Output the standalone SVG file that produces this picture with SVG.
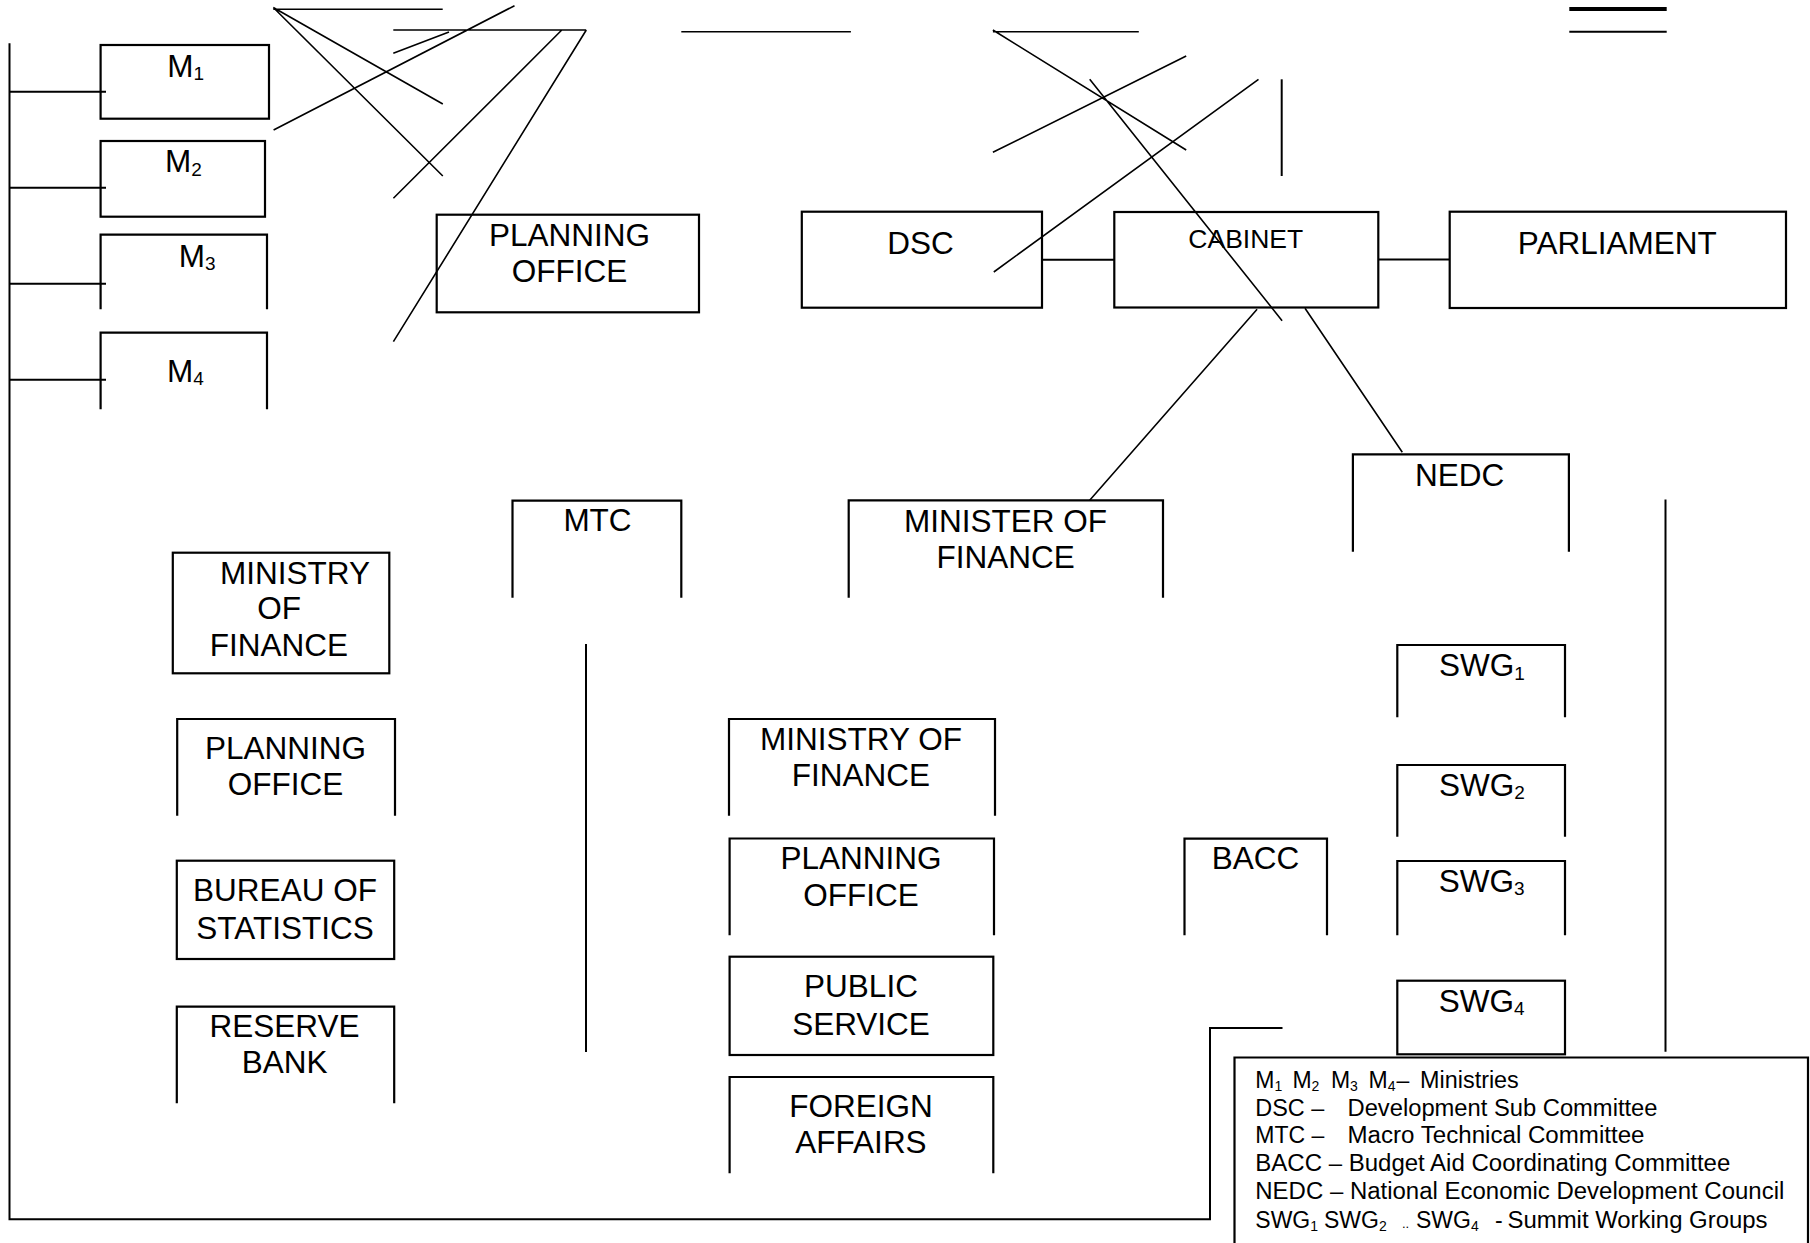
<svg xmlns="http://www.w3.org/2000/svg" width="1810" height="1243" viewBox="0 0 1810 1243">
<style>
.box{fill:none;stroke:#000;stroke-width:2.2}
.ln{fill:none;stroke:#000;stroke-width:1.6}
.cn{fill:none;stroke:#000;stroke-width:2}
text{font-family:"Liberation Sans",Arial,sans-serif;font-size:31.5px;fill:#000}
.c{text-anchor:middle}
.lg{font-size:23px}
.sub{font-size:19px}
.lsub{font-size:14px}
</style>
<rect x="0" y="0" width="1810" height="1243" fill="#fff"/>

<g id="connectors">
  <path class="cn" d="M9.5,43.3 V1219.3 H1210 V1028 H1282.5"/>
  <path class="cn" d="M9.5,91.7 H106 M9.5,187.7 H106 M9.5,283.7 H106 M9.5,379.7 H106"/>
  <path class="cn" d="M1042,259.7 H1114.3 M1378.3,259.5 H1449.7"/>
  <path class="ln" d="M1257.1,309.3 L1089.7,500.3 M1305,308.3 L1402.3,452.3"/>
  <path class="cn" d="M586,644 V1052 M1665.5,499.5 V1051.7"/>
  <path class="ln" d="M273.3,9.3 H442.7 M273.3,7.5 L442.8,104 M273.3,7.5 L442.8,176 M273.6,130 L514.5,5.7 M393.3,30 H586.2 M393.3,53.3 L449,32 M561.8,30 L393.4,198.3 M586.3,30 L393.4,341.7"/>
  <path class="ln" d="M681.3,31.7 H850.9 M992.9,31.7 H1138.8 M992.9,30 L1186.2,150 M992.9,152.3 L1186.2,56 M1089.7,79.3 L1282.1,320.7 M993.8,272 L1258.5,79.3"/>
  <path class="cn" d="M1281.7,79.3 V176"/>
  <path fill="none" stroke="#000" stroke-width="4" d="M1569.3,9 H1666.7"/>
  <path class="cn" d="M1569.3,31.7 H1666.7"/>
</g>

<g id="m1"><rect class="box" x="100.6" y="45" width="168.4" height="73.7"/><text x="167.2" y="76.7">M<tspan class="sub" dy="3.5">1</tspan></text></g>
<g id="m2"><rect class="box" x="100.6" y="141" width="164.4" height="75.7"/><text x="165" y="172.3">M<tspan class="sub" dy="3.5">2</tspan></text></g>
<g id="m3"><path class="box" d="M100.6,309.3 V234.7 H267 V309.3"/><text x="178.7" y="266.7">M<tspan class="sub" dy="3.5">3</tspan></text></g>
<g id="m4"><path class="box" d="M100.6,409.3 V332.7 H267 V409.3"/><text x="167" y="381.7">M<tspan class="sub" dy="3.5">4</tspan></text></g>

<g id="planning-office-top"><rect class="box" x="436.7" y="214.7" width="262.3" height="97.6"/><text class="c" x="569.5" y="245.7">PLANNING</text><text class="c" x="569.5" y="281.7">OFFICE</text></g>
<g id="dsc"><rect class="box" x="801.8" y="211.7" width="240.2" height="96"/><text class="c" x="920.5" y="254">DSC</text></g>
<g id="cabinet"><rect class="box" x="1114.3" y="212" width="264" height="95.5"/><text class="c" x="1245.8" y="248.3" style="font-size:26.5px">CABINET</text></g>
<g id="parliament"><rect class="box" x="1449.7" y="211.7" width="336.3" height="96.3"/><text class="c" x="1617.3" y="254">PARLIAMENT</text></g>

<g id="mtc"><path class="box" d="M512.5,597.7 V500.7 H681.3 V597.7"/><text class="c" x="597.5" y="531">MTC</text></g>
<g id="minister-of-finance"><path class="box" d="M848.7,597.7 V500.3 H1163 V597.7"/><text class="c" x="1005.6" y="531.7">MINISTER OF</text><text class="c" x="1005.6" y="567.7">FINANCE</text></g>
<g id="nedc"><path class="box" d="M1352.9,551.7 V454.3 H1568.9 V551.7"/><text class="c" x="1459.7" y="485.7">NEDC</text></g>

<g id="ministry-of-finance-left"><rect class="box" x="172.8" y="552.7" width="216.5" height="120.6"/><text class="c" x="295" y="584">MINISTRY</text><text class="c" x="279" y="619.3">OF</text><text class="c" x="279" y="655.7">FINANCE</text></g>
<g id="planning-office-left"><path class="box" d="M177.2,815.7 V719 H395 V815.7"/><text class="c" x="285.6" y="759">PLANNING</text><text class="c" x="285.6" y="795">OFFICE</text></g>
<g id="bureau-of-statistics"><rect class="box" x="176.8" y="860.7" width="217.4" height="98.3"/><text class="c" x="285" y="901.3">BUREAU OF</text><text class="c" x="285" y="939.3">STATISTICS</text></g>
<g id="reserve-bank"><path class="box" d="M176.8,1103.3 V1006.7 H394.2 V1103.3"/><text class="c" x="284.6" y="1037.3">RESERVE</text><text class="c" x="284.6" y="1073.3">BANK</text></g>

<g id="ministry-of-finance-mid"><path class="box" d="M729,815.7 V719 H995 V815.7"/><text class="c" x="861" y="750">MINISTRY OF</text><text class="c" x="861" y="785.7">FINANCE</text></g>
<g id="planning-office-mid"><path class="box" d="M729.6,935.3 V838.5 H994 V935.3"/><text class="c" x="861" y="869">PLANNING</text><text class="c" x="861" y="905.7">OFFICE</text></g>
<g id="public-service"><rect class="box" x="729.6" y="956.7" width="263.7" height="98.3"/><text class="c" x="861" y="996.7">PUBLIC</text><text class="c" x="861" y="1034.7">SERVICE</text></g>
<g id="foreign-affairs"><path class="box" d="M729.6,1173.3 V1077 H993.3 V1173.3"/><text class="c" x="861" y="1117.3">FOREIGN</text><text class="c" x="861" y="1152.7">AFFAIRS</text></g>

<g id="bacc"><path class="box" d="M1184.5,935.3 V838.7 H1327 V935.3"/><text class="c" x="1255.5" y="869">BACC</text></g>
<g id="swg1"><path class="box" d="M1397.3,717.3 V645 H1565 V717.3"/><text x="1438.9" y="676">SWG<tspan class="sub" dy="3.5">1</tspan></text></g>
<g id="swg2"><path class="box" d="M1397.3,836.7 V765 H1565 V836.7"/><text x="1438.9" y="795.7">SWG<tspan class="sub" dy="3.5">2</tspan></text></g>
<g id="swg3"><path class="box" d="M1397.3,935.3 V861 H1565 V935.3"/><text x="1438.7" y="891.7">SWG<tspan class="sub" dy="3.5">3</tspan></text></g>
<g id="swg4"><rect class="box" x="1397.3" y="980.7" width="167.7" height="73.6"/><text x="1438.7" y="1011.7">SWG<tspan class="sub" dy="3.5">4</tspan></text></g>

<g id="legend">
  <path class="box" d="M1234.5,1250 V1057.5 H1808 V1250"/>
  <text class="lg" x="1255.3" y="1087.5">M<tspan class="lsub" dy="3">1</tspan></text>
  <text class="lg" x="1292.4" y="1087.5">M<tspan class="lsub" dy="3">2</tspan></text>
  <text class="lg" x="1330.9" y="1087.5">M<tspan class="lsub" dy="3">3</tspan></text>
  <text class="lg" x="1368.5" y="1087.5">M<tspan class="lsub" dy="3">4</tspan></text>
  <text class="lg" x="1396.6" y="1087.5">–</text>
  <text class="lg" x="1420.1" y="1087.5" textLength="98.7" lengthAdjust="spacingAndGlyphs">Ministries</text>
  <text class="lg" x="1255.3" y="1115.5" textLength="69" lengthAdjust="spacingAndGlyphs">DSC –</text>
  <text class="lg" x="1347.5" y="1115.5" textLength="310" lengthAdjust="spacingAndGlyphs">Development Sub Committee</text>
  <text class="lg" x="1255.3" y="1143" textLength="69" lengthAdjust="spacingAndGlyphs">MTC –</text>
  <text class="lg" x="1347.5" y="1143" textLength="297" lengthAdjust="spacingAndGlyphs">Macro Technical Committee</text>
  <text class="lg" x="1255.3" y="1171" textLength="475" lengthAdjust="spacingAndGlyphs">BACC – Budget Aid Coordinating Committee</text>
  <text class="lg" x="1255.3" y="1199" textLength="529" lengthAdjust="spacingAndGlyphs">NEDC – National Economic Development Council</text>
  <text class="lg" x="1255.3" y="1227.5">SWG<tspan class="lsub" dy="3">1</tspan></text>
  <text class="lg" x="1324" y="1227.5">SWG<tspan class="lsub" dy="3">2</tspan></text>
  <text class="lg" x="1402" y="1227.5" style="font-size:13px">..</text>
  <text class="lg" x="1416" y="1227.5">SWG<tspan class="lsub" dy="3">4</tspan></text>
  <text class="lg" x="1495" y="1227.5">-</text>
  <text class="lg" x="1507.5" y="1227.5" textLength="260" lengthAdjust="spacingAndGlyphs">Summit Working Groups</text>
</g>
</svg>
